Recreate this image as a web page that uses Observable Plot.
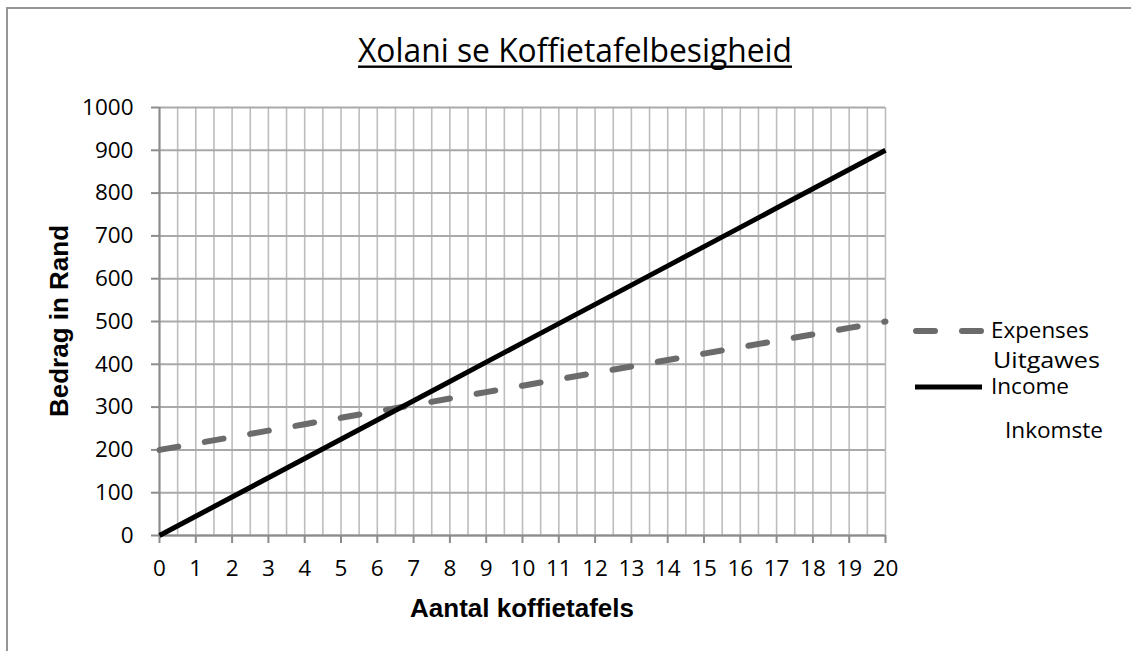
<!DOCTYPE html>
<html>
<head>
<meta charset="utf-8">
<script src="https://cdn.jsdelivr.net/npm/d3@7"></script>
<script src="https://cdn.jsdelivr.net/npm/@observablehq/plot@0.6"></script>
<style>
  html, body { margin: 0; padding: 0; background: #fff; }
  #wrap { position: relative; width: 1131px; height: 651px; overflow: hidden; }
  #wrap > svg { position: absolute; left: 0; top: 0; }
</style>
</head>
<body>
<div id="wrap"></div>
<script>
// ---- data ----
const tables   = [0, 1, 2, 3, 4, 5, 6, 7, 8, 9, 10, 11, 12, 13, 14, 15, 16, 17, 18, 19, 20];
const income   = [0, 45, 90, 135, 180, 225, 270, 315, 360, 405, 450, 495, 540, 585, 630, 675, 720, 765, 810, 855, 900];
const expenses = [200, 215, 230, 245, 260, 275, 290, 305, 320, 335, 350, 365, 380, 395, 410, 425, 440, 455, 470, 485, 500];
const xTicks = [0, 1, 2, 3, 4, 5, 6, 7, 8, 9, 10, 11, 12, 13, 14, 15, 16, 17, 18, 19, 20];
const yTicks = [0, 100, 200, 300, 400, 500, 600, 700, 800, 900, 1000];
const xGrid = d3.range(0, 20.001, 0.5);

const title = "Xolani se Koffietafelbesigheid";
const xTitle = "Aantal koffietafels";
const yTitle = "Bedrag in Rand";
const legendItems = [
  {name: "Expenses", sub: "Uitgawes"},
  {name: "Income", sub: "Inkomste"}
];

const rows = tables.map((t, i) => ({t, income: income[i], expenses: expenses[i]}));

const plot = Plot.plot({
  width: 1131,
  height: 651,
  marginLeft: 159,
  marginRight: 246,
  marginTop: 107,
  marginBottom: 116,
  style: {fontFamily: "'Open Sans', sans-serif", background: "transparent", color: "#000"},
  x: {domain: [0, 20]},
  y: {domain: [0, 1000]},
  marks: [
    Plot.ruleX(xGrid, {stroke: "#bdbdbd", strokeWidth: 1.6}),
    Plot.ruleY(yTicks, {stroke: "#a9a9a9", strokeWidth: 2}),
    Plot.ruleX([0], {stroke: "#8c8c8c", strokeWidth: 2}),
    Plot.ruleY([0], {stroke: "#8c8c8c", strokeWidth: 2}),
    Plot.axisX({ticks: xTicks, tickFormat: d => String(d), tickSize: 8, tickPadding: 17, fontSize: 22.5, stroke: "#8c8c8c", strokeWidth: 2, label: null}),
    Plot.axisY({ticks: yTicks, tickFormat: d => String(d), tickSize: 8, tickPadding: 18, fontSize: 22.5, stroke: "#8c8c8c", strokeWidth: 2, label: null}),
    Plot.line(rows, {x: "t", y: "expenses", stroke: "#6b6b6b", strokeWidth: 6, strokeDasharray: "19,27", strokeLinecap: "round"}),
    Plot.line(rows, {x: "t", y: "income", stroke: "#000", strokeWidth: 5, strokeLinecap: "butt"})
  ]
});
document.getElementById("wrap").appendChild(plot);

// ---- overlay: border, title, axis titles, legend ----
const ov = d3.select("#wrap").append("svg")
  .attr("width", 1131).attr("height", 651)
  .style("font-family", "'Open Sans', sans-serif");

ov.append("rect").attr("x", 7).attr("y", 8).attr("width", 1200).attr("height", 700)
  .attr("fill", "none").attr("stroke", "#969696").attr("stroke-width", 2);

ov.append("text").attr("x", 358).attr("y", 62)
  .attr("font-size", 33).attr("font-weight", 500).attr("textLength", 434).attr("lengthAdjust", "spacingAndGlyphs")
  .text(title);
ov.append("rect").attr("x", 358).attr("y", 65.5).attr("width", 434).attr("height", 2.4).attr("fill", "#000");

ov.append("text").attr("x", 522).attr("y", 617).attr("text-anchor", "middle")
  .attr("font-family", "'Liberation Sans', Arial, sans-serif").attr("font-weight", "bold").attr("font-size", 26)
  .text(xTitle);
ov.append("text").attr("transform", "translate(68,321) rotate(-90)").attr("text-anchor", "middle")
  .attr("font-family", "'Liberation Sans', Arial, sans-serif").attr("font-weight", "bold").attr("font-size", 26)
  .text(yTitle);

// legend
const lg = ov.append("g");
lg.append("line").attr("x1", 916).attr("x2", 982).attr("y1", 331).attr("y2", 331)
  .attr("stroke", "#6b6b6b").attr("stroke-width", 6).attr("stroke-linecap", "round").attr("stroke-dasharray", "19,27");
lg.append("text").attr("x", 991).attr("y", 338).attr("font-size", 21).attr("textLength", 98).attr("lengthAdjust", "spacingAndGlyphs").text(legendItems[0].name);
lg.append("text").attr("x", 993).attr("y", 368).attr("font-size", 22).attr("textLength", 107).attr("lengthAdjust", "spacingAndGlyphs").text(legendItems[0].sub);
lg.append("line").attr("x1", 915).attr("x2", 982).attr("y1", 387).attr("y2", 387)
  .attr("stroke", "#000").attr("stroke-width", 5);
lg.append("text").attr("x", 991).attr("y", 394).attr("font-size", 22.5).attr("textLength", 78).attr("lengthAdjust", "spacingAndGlyphs").text(legendItems[1].name);
lg.append("text").attr("x", 1005).attr("y", 438).attr("font-size", 21).attr("textLength", 98).attr("lengthAdjust", "spacingAndGlyphs").text(legendItems[1].sub);
</script>
</body>
</html>
